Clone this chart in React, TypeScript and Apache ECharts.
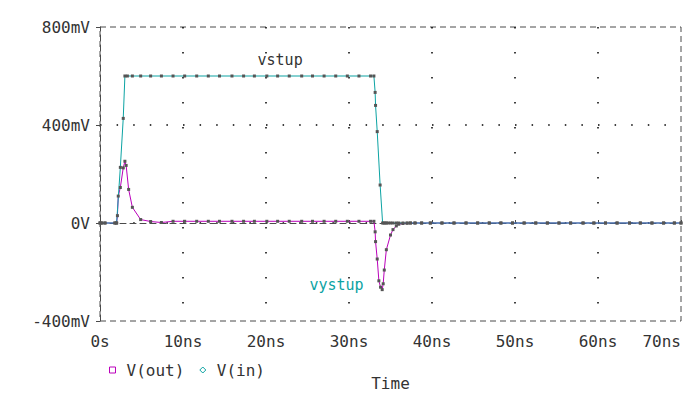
import React, { useEffect, useRef } from "react";
import * as echarts from "echarts";

// Shared tail time points (ns) after the falling edge
const tailTime = [37.4, 37.95, 38.75, 39.8, 41.2, 42.65, 44.1, 45.5, 46.9, 48.3, 49.7, 51.1, 52.5, 53.9, 55.3, 56.7, 58.2, 59.5, 60.9, 62.3, 63.8, 65.1, 66.5, 67.9, 69.2, 70];
const tailValues = [0, 0, 0, 0, 0, 0, 0, 0, 0, 0, 0, 0, 0, 0, 0, 0, 0, 0, 0, 0, 0, 0, 0, 0, 0, 0];

// Plateau time points (ns)
const plateauTime = [8.8, 10.2, 11.65, 13.05, 14.4, 15.9, 17.3, 18.6, 20.1, 21.4, 22.8, 24.3, 25.6, 27.0, 28.4, 29.8, 31.2, 32.6, 33.0];

// V(in) in mV
const inTimeHead = [0, 0.2, 0.6, 1.8, 2.0, 2.45, 2.8, 3.0, 3.3, 3.9, 4.9, 6.1, 7.4];
const inValuesHead = [0, 0, 0, 0, 0, 227, 427, 600, 600, 600, 600, 600, 600];
const inPlateau = [600, 600, 600, 600, 600, 600, 600, 600, 600, 600, 600, 600, 600, 600, 600, 600, 600, 600, 600];
const inTimeFall = [33.15, 33.2, 33.4, 33.75, 34.05, 34.2, 34.35, 34.5, 34.7, 35.0, 35.3, 35.7, 36.0, 36.5, 37.0];
const inValuesFall = [533, 480, 373, 155, 0, 0, 0, 0, 0, 0, 0, 0, 0, 0, 0];

// V(out) in mV
const outTimeHead = [0, 0.2, 0.6, 1.8, 2.0, 2.1, 2.2, 2.45, 2.8, 3.0, 3.15, 3.45, 3.9, 4.9, 6.1, 7.4];
const outValuesHead = [0, 0, 0, 0, 0, 30, 110, 145, 225, 252, 235, 137, 64, 14, 6, 2];
const outPlateau = [7, 7, 7, 7, 7, 7, 7, 7, 7, 7, 7, 7, 7, 7, 7, 7, 7, 7, 7];
const outTimeFall = [33.15, 33.2, 33.4, 33.6, 33.8, 34.0, 34.12, 34.25, 34.5, 35.0, 35.3, 35.7, 36.0, 36.5, 37.0];
const outValuesFall = [-36, -76, -147, -236, -262, -272, -248, -192, -109, -49, -27, -12, -5, -2, -1];

const xTicks = [0, 10, 20, 30, 40, 50, 60, 70];
const yTicks = [-400, 0, 400, 800];

const seriesNames = ["V(out)", "V(in)"];
const annotations = [
  { text: "vstup", t: 21.7, v: 664 },
  { text: "vystup", t: 28.5, v: -252 },
];

const FONT = "DejaVu Sans Mono";
const TEXT = "#333333";
const AXIS = "#4a4a4a";
const MAGENTA = "#bb00bb";
const TEAL = "#0ca3a3";
const MARK = "#555555";

function pairs(t: number[], v: number[]) {
  return t.map((x, i) => [x, v[i]]);
}

export default function App() {
  const ref = useRef<HTMLDivElement>(null);
  useEffect(() => {
    if (!ref.current) return;
    const chart = echarts.init(ref.current, undefined, { renderer: "svg" });
    const outData = pairs(
      [...outTimeHead, ...plateauTime, ...outTimeFall, ...tailTime],
      [...outValuesHead, ...outPlateau, ...outValuesFall, ...tailValues]
    );
    const inData = pairs(
      [...inTimeHead, ...plateauTime, ...inTimeFall, ...tailTime],
      [...inValuesHead, ...inPlateau, ...inValuesFall, ...tailValues]
    );
    chart.setOption({
      animation: false,
      backgroundColor: "#ffffff",
      grid: {
        left: 100,
        right: 10,
        top: 27,
        bottom: 71,
        show: true,
        borderColor: AXIS,
        borderWidth: 1,
        borderType: [6, 4],
        backgroundColor: "transparent",
      },
      legend: {
        left: 104,
        top: 357,
        itemWidth: 6,
        itemHeight: 6,
        itemGap: 15,
        textStyle: { fontFamily: FONT, fontSize: 16, color: TEXT, padding: [0, 0, 0, 6] },
        data: [
          { name: seriesNames[0], icon: "rect", itemStyle: { color: "transparent", borderColor: MAGENTA, borderWidth: 1 } },
          { name: seriesNames[1], icon: "diamond", itemStyle: { color: "transparent", borderColor: TEAL, borderWidth: 1 } },
        ],
      },
      xAxis: {
        type: "value",
        min: xTicks[0],
        max: xTicks[xTicks.length - 1],
        interval: 10,
        name: "Time",
        nameLocation: "middle",
        nameGap: 54,
        nameTextStyle: { fontFamily: FONT, fontSize: 16, color: TEXT },
        axisLine: { show: true, lineStyle: { color: AXIS, type: [6, 4], width: 1 } },
        axisTick: { show: true, inside: true, length: 3, lineStyle: { color: AXIS } },
        axisLabel: {
          fontFamily: FONT,
          fontSize: 16,
          color: TEXT,
          margin: 12,
          alignMaxLabel: "right",
          formatter: (v: number) => (v === 0 ? "0s" : `${v}ns`),
        },
        splitLine: {
          show: true,
          showMinLine: false,
          showMaxLine: false,
          lineStyle: { color: "#000000", width: 1.5, type: [1.5, 23.5] },
        },
      },
      yAxis: {
        type: "value",
        min: yTicks[0],
        max: yTicks[yTicks.length - 1],
        interval: 400,
        axisLine: { show: true, lineStyle: { color: AXIS, type: [6, 4], width: 1 } },
        axisTick: { show: true, length: 4, lineStyle: { color: AXIS } },
        axisLabel: {
          fontFamily: FONT,
          fontSize: 16,
          color: TEXT,
          margin: 10,
          formatter: (v: number) => (v === 0 ? "0V" : `${v}mV`),
        },
        splitLine: {
          show: true,
          showMinLine: false,
          showMaxLine: false,
          lineStyle: { color: "#000000", width: 1.5, type: [1.5, 15.1] },
        },
      },
      series: [
        {
          name: seriesNames[0],
          type: "line",
          data: outData,
          symbol: "rect",
          symbolSize: 3,
          showAllSymbol: true,
          lineStyle: { color: MAGENTA, width: 1 },
          itemStyle: { color: MARK },
          markPoint: {
            symbol: "circle",
            symbolSize: 1,
            itemStyle: { color: "transparent" },
            data: [
              {
                coord: [annotations[1].t, annotations[1].v],
                label: { show: true, formatter: annotations[1].text, color: TEAL, fontFamily: FONT, fontSize: 15 },
              },
            ],
          },
        },
        {
          name: seriesNames[1],
          type: "line",
          data: inData,
          symbol: "rect",
          symbolSize: 3,
          showAllSymbol: true,
          lineStyle: { color: TEAL, width: 1 },
          itemStyle: { color: MARK },
          markPoint: {
            symbol: "circle",
            symbolSize: 1,
            itemStyle: { color: "transparent" },
            data: [
              {
                coord: [annotations[0].t, annotations[0].v],
                label: { show: true, formatter: annotations[0].text, color: TEXT, fontFamily: FONT, fontSize: 15 },
              },
            ],
          },
        },
      ],
    });
    return () => chart.dispose();
  }, []);
  return (
    <div
      ref={ref}
      style={{ position: "fixed", left: 0, top: 0, width: 691, height: 396, background: "#fff" }}
    />
  );
}
